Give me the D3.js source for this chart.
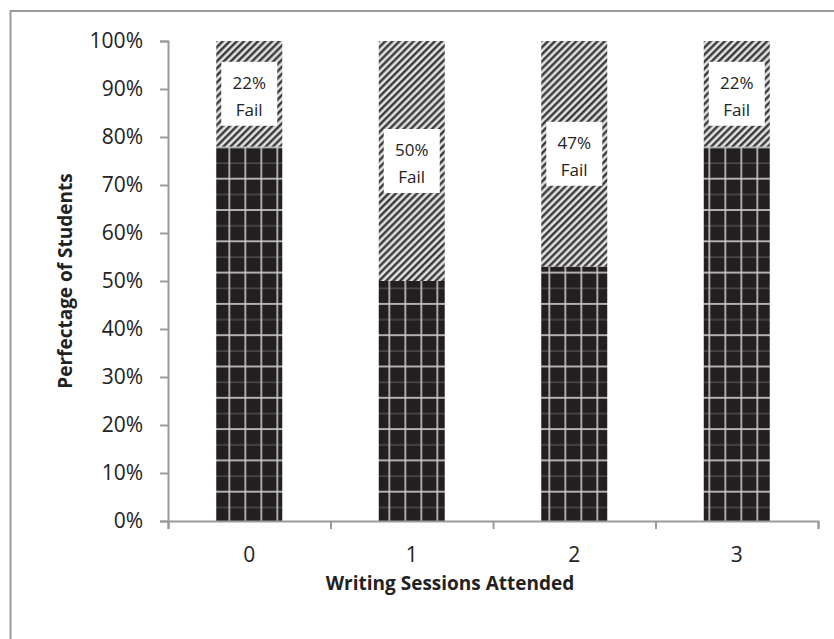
<!DOCTYPE html>
<html><head><meta charset="utf-8">
<script src="https://cdn.jsdelivr.net/npm/d3@7/dist/d3.min.js"></script>
<style>
html,body{margin:0;padding:0;background:#fff;}
svg{display:block;}
text{font-family:"Open Sans","Liberation Sans",sans-serif;fill:#222;}
</style></head>
<body>
<svg id="c" width="834" height="639"></svg>
<script>
const categories = ["0","1","2","3"];
const passPct = [78, 50, 53, 78];
const failPct = [22, 50, 47, 22];
const failLabels = ["22%", "50%", "47%", "22%"];
const yTicks = [0,10,20,30,40,50,60,70,80,90,100];
const xTitle = "Writing Sessions Attended";
const yTitle = "Perfectage of Students";

const svg = d3.select("#c");
const W = 834, H = 639;
const m = {left:168, right:834-818, top:41, bottom:639-521};

const defs = svg.append("defs");
// grid pattern for pass
const gp = defs.append("pattern").attr("id","grid").attr("patternUnits","userSpaceOnUse")
  .attr("width",16).attr("height",31.3).attr("x",5.3).attr("y",22.2);
gp.append("rect").attr("width",16).attr("height",31.3).attr("fill","#231f20");
gp.append("rect").attr("x",0).attr("y",15.2).attr("width",16).attr("height",1.2).attr("fill","#555");
gp.append("rect").attr("x",0).attr("y",-0.75).attr("width",16).attr("height",1.6).attr("fill","#c9c9c9");
gp.append("rect").attr("x",0).attr("y",30.45).attr("width",16).attr("height",1.6).attr("fill","#c9c9c9");
gp.append("rect").attr("x",-0.75).attr("y",0).attr("width",1.6).attr("height",31.3).attr("fill","#c9c9c9");
gp.append("rect").attr("x",15.25).attr("y",0).attr("width",1.6).attr("height",31.3).attr("fill","#c9c9c9");
// diagonal pattern for fail
const dp = defs.append("pattern").attr("id","diag").attr("patternUnits","userSpaceOnUse")
  .attr("width",10).attr("height",5).attr("patternTransform","rotate(-45)");
dp.append("rect").attr("width",10).attr("height",5).attr("fill","#f6f6f6");
dp.append("rect").attr("y",0).attr("width",10).attr("height",0.7).attr("fill","#8a8a8a");
dp.append("rect").attr("y",0.7).attr("width",10).attr("height",2.0).attr("fill","#222");
dp.append("rect").attr("y",2.7).attr("width",10).attr("height",0.7).attr("fill","#8a8a8a");

// chart border (cut at right/bottom as in reference)
svg.append("rect").attr("x",10.5).attr("y",11).attr("width",900).attr("height",700)
  .attr("fill","none").attr("stroke","#9a9a9a").attr("stroke-width",2);

const x = d3.scaleBand().domain(categories).range([m.left, W-m.right]).paddingInner(0.594).paddingOuter(0.297);
const y = d3.scaleLinear().domain([0,100]).range([H-m.bottom, m.top]);

const g = svg.append("g");
// pass bars
g.selectAll(".pass").data(categories).join("rect")
  .attr("x",d=>x(d)).attr("width",x.bandwidth())
  .attr("y",(d,i)=>y(passPct[i])).attr("height",(d,i)=>y(0)-y(passPct[i]))
  .attr("fill","url(#grid)");
// fail bars
g.selectAll(".fail").data(categories).join("rect")
  .attr("x",d=>x(d)).attr("width",x.bandwidth())
  .attr("y",(d,i)=>y(passPct[i]+failPct[i])).attr("height",(d,i)=>y(passPct[i])-y(passPct[i]+failPct[i]))
  .attr("fill","url(#diag)");

// labels
const lab = g.selectAll(".lab").data(categories).join("g")
  .attr("transform",(d,i)=>`translate(${x(d)+x.bandwidth()/2},${y(passPct[i]+failPct[i]/2)})`);
lab.append("rect").attr("x",-28).attr("y",-32).attr("width",56).attr("height",64).attr("fill","#fff");
lab.append("text").attr("text-anchor","middle").attr("y",-5).attr("font-size",17)
  .text((d,i)=>failLabels[i]);
lab.append("text").attr("text-anchor","middle").attr("y",22).attr("font-size",17)
  .text("Fail");

// y axis
const ya = svg.append("g").attr("transform",`translate(${m.left},0)`)
  .call(d3.axisLeft(y).tickValues(yTicks).tickFormat(d=>d+"%").tickSize(8).tickPadding(17));
ya.select(".domain").attr("stroke","#9a9a9a").attr("stroke-width",2);
ya.selectAll(".tick line").attr("stroke","#9a9a9a").attr("stroke-width",2);
ya.selectAll(".tick text").attr("font-size",21).attr("font-family","Open Sans").attr("fill","#222");

// x axis: boundary ticks
const xb = d3.scaleLinear().domain([0,categories.length]).range([m.left, W-m.right]);
const xa = svg.append("g").attr("transform",`translate(0,${y(0)})`)
  .call(d3.axisBottom(xb).ticks(categories.length).tickFormat("").tickSize(8));
xa.select(".domain").attr("stroke","#9a9a9a").attr("stroke-width",2);
xa.selectAll(".tick line").attr("stroke","#9a9a9a").attr("stroke-width",2);
svg.append("g").selectAll("text").data(categories).join("text")
  .attr("x",d=>x(d)+x.bandwidth()/2).attr("y",y(0)+41).attr("text-anchor","middle")
  .attr("font-size",21).text(d=>d);

svg.append("text").attr("x",450).attr("y",590).attr("text-anchor","middle")
  .attr("font-size",19).attr("font-weight","bold").text(xTitle);
svg.append("text").attr("transform",`translate(72,281) rotate(-90)`).attr("text-anchor","middle")
  .attr("font-size",19).attr("font-weight","bold").text(yTitle);
</script>
</body></html>
